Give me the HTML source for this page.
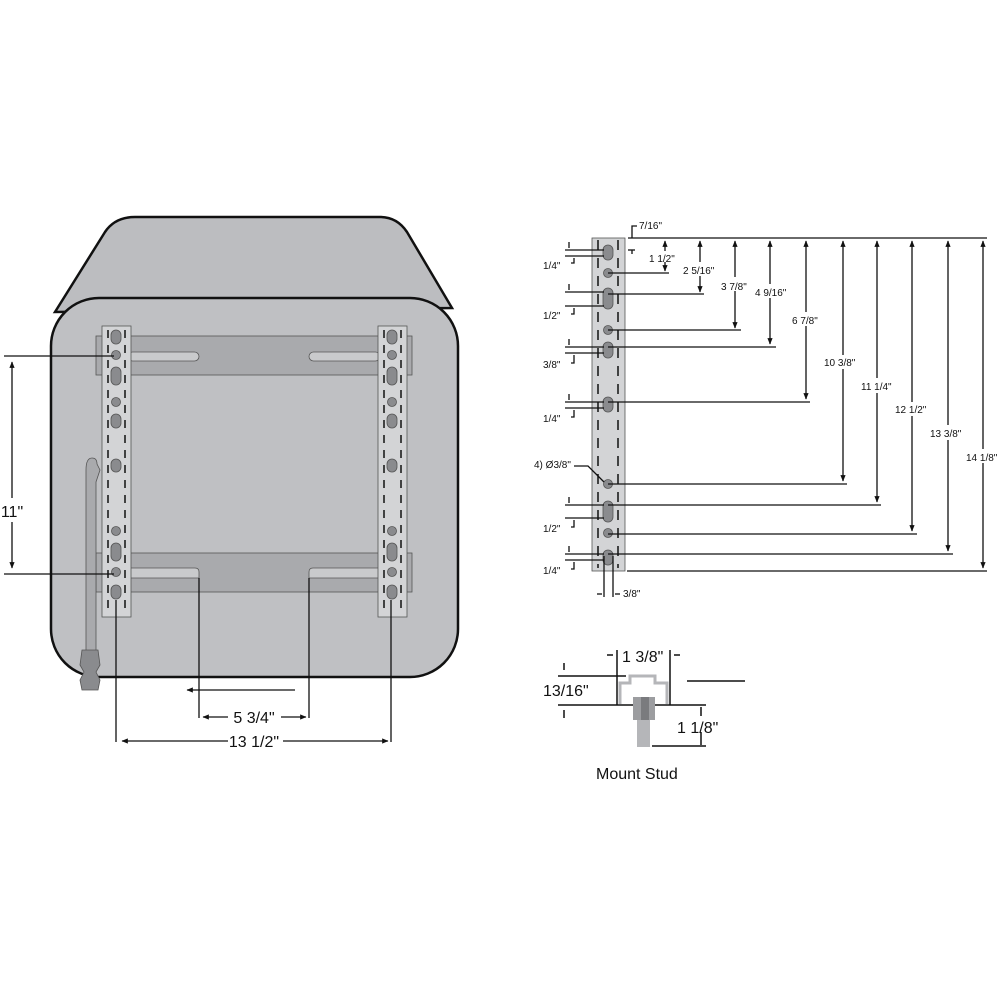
<!DOCTYPE html>
<html><head><style>
html,body{margin:0;padding:0;background:#fff;}
svg{display:block;font-family:"Liberation Sans",Arial,sans-serif;}
</style></head><body>
<svg width="1000" height="1000" viewBox="0 0 1000 1000" xmlns="http://www.w3.org/2000/svg">
<defs>
<marker id="a" viewBox="0 0 10 10" refX="9" refY="5" markerWidth="5" markerHeight="5" orient="auto-start-reverse"><path d="M0,1 L10,5 L0,9 z" fill="#111"/></marker>
</defs>
<path d="M55,312 L105,232 Q115,217 135,217 L380,217 Q397,217 407,232 L452,308 Z" fill="#bcbdc0" stroke="#111" stroke-width="2.5"/>
<rect x="51" y="298" width="407" height="379" rx="48" fill="#bfc0c3" stroke="#111" stroke-width="2.5"/>
<g fill="#a9aaad" stroke="#555" stroke-width="0.8">
<rect x="96" y="336" width="316" height="39"/>
<rect x="96" y="553" width="316" height="39"/>
</g>
<g fill="#c9cacc" stroke="#555" stroke-width="0.8">
<rect x="128" y="352" width="71" height="9" rx="4.5"/>
<rect x="309" y="352" width="71" height="9" rx="4.5"/>
<path d="M128,568 L195,568 Q199,568 199,572 L199,578 L128,578 Z"/>
<path d="M380,568 L313,568 Q309,568 309,572 L309,578 L380,578 Z"/>
</g>
<path d="M86,470 Q86,458 92,458 Q97,458 97,464 L100,470 L96,482 L96,655 L86,655 Z" fill="#a9aaad" stroke="#555" stroke-width="0.8"/>
<path d="M82,650 L98,650 L100,665 L96,672 L100,680 L98,690 L82,690 L80,680 L84,672 L80,665 Z" fill="#8a8b8e" stroke="#555" stroke-width="0.8"/>
<g id="rail">
<rect x="102" y="326" width="29" height="291" fill="#d3d4d6" stroke="#555" stroke-width="0.8"/>
<g stroke="#111" stroke-width="1.5" stroke-dasharray="8,7">
<line x1="108" y1="330" x2="108" y2="614"/><line x1="125" y1="330" x2="125" y2="614"/>
</g>
<g fill="#8a8b8e" stroke="#555" stroke-width="0.8">
<rect x="111" y="330" width="10" height="14" rx="5"/>
<circle cx="116" cy="355" r="4.5"/>
<rect x="111" y="367" width="10" height="18" rx="5"/>
<circle cx="116" cy="402" r="4.5"/>
<rect x="111" y="414" width="10" height="14" rx="5"/>
<rect x="111" y="459" width="10" height="13" rx="5"/>
<circle cx="116" cy="531" r="4.5"/>
<rect x="111" y="543" width="10" height="18" rx="5"/>
<circle cx="116" cy="572" r="4.5"/>
<rect x="111" y="585" width="10" height="14" rx="5"/>
</g>
</g>
<use href="#rail" x="276"/>
<g stroke="#111" stroke-width="1.3" fill="none">
<line x1="4" y1="356" x2="114" y2="356"/>
<line x1="4" y1="574" x2="114" y2="574"/>
<line x1="12" y1="362" x2="12" y2="498" marker-start="url(#a)"/>
<line x1="12" y1="522" x2="12" y2="568" marker-end="url(#a)"/>
<line x1="116" y1="600" x2="116" y2="742"/>
<line x1="391" y1="600" x2="391" y2="742"/>
<line x1="199" y1="578" x2="199" y2="718"/>
<line x1="309" y1="578" x2="309" y2="718"/>
<line x1="122" y1="741" x2="228" y2="741" marker-start="url(#a)"/>
<line x1="283" y1="741" x2="388" y2="741" marker-end="url(#a)"/>
<line x1="203" y1="717" x2="228" y2="717" marker-start="url(#a)"/>
<line x1="281" y1="717" x2="306" y2="717" marker-end="url(#a)"/>
<line x1="187" y1="690" x2="295" y2="690" marker-start="url(#a)"/>
</g>
<g font-size="16" fill="#111" text-anchor="middle">
<text x="12" y="517">11"</text>
<text x="254" y="723">5 3/4"</text>
<text x="254" y="747">13 1/2"</text>
</g>
<rect x="592" y="238" width="33" height="333" fill="#d3d4d6" stroke="#555" stroke-width="0.8"/>
<g stroke="#111" stroke-width="1.5" stroke-dasharray="10,8">
<line x1="598" y1="240" x2="598" y2="568"/><line x1="618" y1="240" x2="618" y2="568"/>
</g>
<g fill="#8a8b8e" stroke="#555" stroke-width="0.8">
<rect x="603" y="245" width="10" height="15" rx="5"/>
<circle cx="608" cy="273" r="4.5"/>
<rect x="603" y="288" width="10" height="21" rx="5"/>
<circle cx="608" cy="330" r="4.5"/>
<rect x="603" y="342" width="10" height="16" rx="5"/>
<rect x="603" y="397" width="10" height="15" rx="5"/>
<circle cx="608" cy="484" r="4.5"/>
<rect x="603" y="501" width="10" height="21" rx="5"/>
<circle cx="608" cy="533" r="4.5"/>
<rect x="603" y="550" width="10" height="15" rx="5"/>
</g>
<g stroke="#111" stroke-width="1.3" fill="none">
<line x1="628" y1="238" x2="987" y2="238"/>
<line x1="627" y1="571" x2="987" y2="571"/>
<polyline points="632,238 632,226 637,226"/>
<line x1="628" y1="250" x2="635" y2="250"/><line x1="632" y1="250" x2="632" y2="254"/>
<line x1="608" y1="273" x2="669" y2="273"/>
<line x1="608" y1="294" x2="704" y2="294"/>
<line x1="608" y1="330" x2="741" y2="330"/>
<line x1="608" y1="347" x2="776" y2="347"/>
<line x1="608" y1="402" x2="810" y2="402"/>
<line x1="608" y1="484" x2="847" y2="484"/>
<line x1="608" y1="505" x2="881" y2="505"/>
<line x1="608" y1="534" x2="917" y2="534"/>
<line x1="608" y1="554" x2="953" y2="554"/>
<polyline points="574,466 588,466 604,482"/>
<line x1="665" y1="241" x2="665" y2="251" marker-start="url(#a)"/><line x1="665" y1="262" x2="665" y2="271" marker-end="url(#a)"/>
<line x1="700" y1="241" x2="700" y2="262" marker-start="url(#a)"/><line x1="700" y1="276" x2="700" y2="292" marker-end="url(#a)"/>
<line x1="735" y1="241" x2="735" y2="277" marker-start="url(#a)"/><line x1="735" y1="291" x2="735" y2="328" marker-end="url(#a)"/>
<line x1="770" y1="241" x2="770" y2="284" marker-start="url(#a)"/><line x1="770" y1="298" x2="770" y2="344" marker-end="url(#a)"/>
<line x1="806" y1="241" x2="806" y2="312" marker-start="url(#a)"/><line x1="806" y1="326" x2="806" y2="399" marker-end="url(#a)"/>
<line x1="843" y1="241" x2="843" y2="355" marker-start="url(#a)"/><line x1="843" y1="369" x2="843" y2="481" marker-end="url(#a)"/>
<line x1="877" y1="241" x2="877" y2="378" marker-start="url(#a)"/><line x1="877" y1="393" x2="877" y2="502" marker-end="url(#a)"/>
<line x1="912" y1="241" x2="912" y2="402" marker-start="url(#a)"/><line x1="912" y1="416" x2="912" y2="531" marker-end="url(#a)"/>
<line x1="948" y1="241" x2="948" y2="425" marker-start="url(#a)"/><line x1="948" y1="440" x2="948" y2="551" marker-end="url(#a)"/>
<line x1="983" y1="241" x2="983" y2="449" marker-start="url(#a)"/><line x1="983" y1="463" x2="983" y2="568" marker-end="url(#a)"/>
<line x1="565" y1="250" x2="604" y2="250"/><line x1="565" y1="256" x2="604" y2="256"/>
<line x1="569" y1="242" x2="569" y2="248"/><polyline points="571,263 574,263 574,258"/>
<line x1="565" y1="292" x2="604" y2="292"/><line x1="565" y1="306" x2="604" y2="306"/>
<line x1="569" y1="284" x2="569" y2="290"/><polyline points="571,314 574,314 574,308"/>
<line x1="565" y1="347" x2="604" y2="347"/><line x1="565" y1="353" x2="604" y2="353"/>
<line x1="569" y1="339" x2="569" y2="345"/><polyline points="571,363 574,363 574,355"/>
<line x1="565" y1="402" x2="604" y2="402"/><line x1="565" y1="408" x2="604" y2="408"/>
<line x1="569" y1="394" x2="569" y2="400"/><polyline points="571,417 574,417 574,410"/>
<line x1="565" y1="505" x2="604" y2="505"/><line x1="565" y1="518" x2="604" y2="518"/>
<line x1="569" y1="497" x2="569" y2="503"/><polyline points="571,527 574,527 574,520"/>
<line x1="565" y1="554" x2="604" y2="554"/><line x1="565" y1="560" x2="604" y2="560"/>
<line x1="569" y1="546" x2="569" y2="552"/><polyline points="571,569 574,569 574,562"/>
<line x1="604" y1="556" x2="604" y2="597"/><line x1="613" y1="556" x2="613" y2="597"/>
<line x1="597" y1="594" x2="602" y2="594"/><line x1="615" y1="594" x2="620" y2="594"/>
</g>
<g font-size="10" fill="#111">
<text x="639" y="229">7/16"</text>
<text x="649" y="262">1 1/2"</text>
<text x="683" y="274">2 5/16"</text>
<text x="721" y="290">3 7/8"</text>
<text x="755" y="296">4 9/16"</text>
<text x="792" y="324">6 7/8"</text>
<text x="824" y="366">10 3/8"</text>
<text x="861" y="390">11 1/4"</text>
<text x="895" y="413">12 1/2"</text>
<text x="930" y="437">13 3/8"</text>
<text x="966" y="461">14 1/8"</text>
<text x="543" y="269">1/4"</text>
<text x="543" y="319">1/2"</text>
<text x="543" y="368">3/8"</text>
<text x="543" y="422">1/4"</text>
<text x="534" y="468">4) Ø3/8"</text>
<text x="543" y="532">1/2"</text>
<text x="543" y="574">1/4"</text>
<text x="623" y="597">3/8"</text>
</g>
<g stroke="#111" stroke-width="1.5" fill="none">
<line x1="558" y1="676" x2="626" y2="676"/>
<line x1="558" y1="705" x2="706" y2="705"/>
<line x1="617" y1="650" x2="617" y2="705"/>
<line x1="670" y1="650" x2="670" y2="705"/>
<line x1="607" y1="655" x2="613" y2="655"/><line x1="674" y1="655" x2="680" y2="655"/>
<line x1="564" y1="663" x2="564" y2="670"/><line x1="564" y1="710" x2="564" y2="718"/>
<line x1="687" y1="681" x2="745" y2="681"/>
<line x1="652" y1="746" x2="706" y2="746"/>
<line x1="701" y1="707" x2="701" y2="716"/><line x1="701" y1="732" x2="701" y2="745"/>
</g>
<path d="M620,704 L620,683 L630,683 L630,676 L655,676 L655,683 L667,683 L667,704" fill="none" stroke="#b5b6b9" stroke-width="3"/>
<rect x="633" y="697" width="22" height="23" fill="#9c9da0"/>
<rect x="641" y="697" width="8" height="23" fill="#7a7b7e"/>
<rect x="637" y="720" width="13" height="27" fill="#b5b6b9"/>
<g font-size="16" fill="#111">
<text x="622" y="662">1 3/8"</text>
<text x="543" y="696">13/16"</text>
<text x="677" y="733">1 1/8"</text>
<text x="596" y="779">Mount Stud</text>
</g>
</svg>
</body></html>
